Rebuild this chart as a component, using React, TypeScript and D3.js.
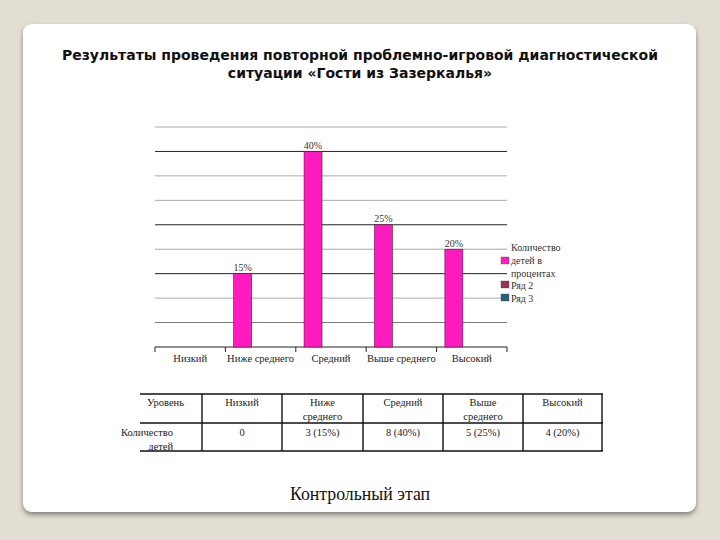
import React from "react";
import * as d3 from "d3";

const categories = ["Низкий", "Ниже среднего", "Средний", "Выше среднего", "Высокий"];
const seriesNames = ["Количество детей в процентах", "Ряд 2", "Ряд 3"];
const series1 = [0, 15, 40, 25, 20];
const series1Labels = ["", "15%", "40%", "25%", "20%"];
const yTicks = [0, 5, 10, 15, 20, 25, 30, 35, 40, 45];
const legendLines = [["Количество", "детей в", "процентах"], ["Ряд 2"], ["Ряд 3"]];
const seriesColors = ["#ff1cbf", "#98324f", "#24607c"];

const tableHeader = [["Уровень"], ["Низкий"], ["Ниже", "среднего"], ["Средний"], ["Выше", "среднего"], ["Высокий"]];
const tableRow = [["Количество", "детей"], ["0"], ["3 (15%)"], ["8 (40%)"], ["5 (25%)"], ["4 (20%)"]];
const tableCols = [143, 202, 282, 363, 443, 523, 602];

const titleLines = [
  "Результаты проведения повторной проблемно-игровой диагностической",
  "ситуации «Гости из Зазеркалья»",
];
const footer = "Контрольный этап";

export default function App() {
  const x0 = d3.scaleBand<string>().domain(categories).range([155, 507]).padding(0);
  const x1 = d3
    .scaleBand<string>()
    .domain(seriesNames)
    .range([0, x0.bandwidth()])
    .paddingInner(0)
    .paddingOuter(0.46);
  const y = d3.scaleLinear().domain([0, 45]).range([347, 127]);
  const serif = "'Liberation Serif', 'DejaVu Serif', serif";
  const gridColor = (v: number) =>
    v === 15 || v === 25 || v === 40 ? "#222" : v === 5 ? "#777" : "#aaa";

  const boundaries = [...categories.map((c) => x0(c) as number), 507];

  return (
    <svg width={720} height={540} style={{ position: "absolute", left: 0, top: 0 }}>
      <defs>
        <filter id="sh" x="-5%" y="-5%" width="110%" height="115%">
          <feDropShadow dx="0" dy="3" stdDeviation="2.5" floodColor="#666" floodOpacity="0.75" />
        </filter>
      </defs>
      <rect x={0} y={0} width={720} height={540} fill="#e3ded3" />
      <rect x={23} y={24} width={673} height={488} rx={9} fill="#fff" filter="url(#sh)" />

      {titleLines.map((t, i) => (
        <text
          key={i}
          x={360}
          y={60 + i * 18}
          textAnchor="middle"
          fontFamily="'DejaVu Sans', sans-serif"
          fontWeight="bold"
          fontSize={14}
          fill="#111"
        >
          {t}
        </text>
      ))}

      {/* gridlines */}
      {yTicks.slice(1).map((v) => (
        <line key={v} x1={155} x2={507} y1={y(v)} y2={y(v)} stroke={gridColor(v)} strokeWidth={1} />
      ))}
      {/* baseline */}
      <line x1={155} x2={507} y1={y(0)} y2={y(0)} stroke="#222" strokeWidth={1} />
      {boundaries.map((b, i) => (
        <line key={i} x1={b} x2={b} y1={y(0)} y2={y(0) + 5} stroke="#222" />
      ))}

      {/* bars */}
      {categories.map((c, i) =>
        series1[i] > 0 ? (
          <g key={c}>
            <rect
              x={(x0(c) as number) + (x1(seriesNames[0]) as number)}
              y={y(series1[i])}
              width={x1.bandwidth()}
              height={y(0) - y(series1[i])}
              fill={seriesColors[0]}
              stroke="#5a1040"
              strokeWidth={0.6}
            />
            <text
              x={(x0(c) as number) + (x1(seriesNames[0]) as number) + x1.bandwidth() / 2}
              y={y(series1[i]) - 2.5}
              textAnchor="middle"
              fontFamily={serif}
              fontSize={10}
              fill="#333"
            >
              {series1Labels[i]}
            </text>
          </g>
        ) : null
      )}

      {/* x labels */}
      {categories.map((c) => (
        <text
          key={c}
          x={(x0(c) as number) + x0.bandwidth() / 2}
          y={362}
          textAnchor="middle"
          fontFamily={serif}
          fontSize={10.5}
          fill="#222"
        >
          {c}
        </text>
      ))}

      {/* legend */}
      <text x={511} y={251} fontFamily={serif} fontSize={10} fill="#333">
        {legendLines[0][0]}
      </text>
      <rect x={501} y={257} width={8} height={7} fill={seriesColors[0]} stroke="#555" strokeWidth={0.4} />
      <text x={511} y={264} fontFamily={serif} fontSize={10} fill="#333">
        {legendLines[0][1]}
      </text>
      <text x={511} y={277} fontFamily={serif} fontSize={10} fill="#333">
        {legendLines[0][2]}
      </text>
      <rect x={501} y={281} width={8} height={7} fill={seriesColors[1]} stroke="#555" strokeWidth={0.4} />
      <text x={511} y={289} fontFamily={serif} fontSize={10} fill="#333">
        {legendLines[1][0]}
      </text>
      <rect x={501} y={294} width={8} height={7} fill={seriesColors[2]} stroke="#555" strokeWidth={0.4} />
      <text x={511} y={302} fontFamily={serif} fontSize={10} fill="#333">
        {legendLines[2][0]}
      </text>

      {/* table */}
      {[394, 423, 451].map((ly) => (
        <line key={ly} x1={140} x2={603} y1={ly} y2={ly} stroke="#111" strokeWidth={1.4} />
      ))}
      {tableCols.slice(1).map((cx) => (
        <line key={cx} x1={cx} x2={cx} y1={394} y2={451} stroke="#111" strokeWidth={1.4} />
      ))}
      {tableHeader.map((lines, ci) =>
        lines.map((t, li) => (
          <text
            key={ci + "-" + li}
            x={ci === 0 ? 147 : (tableCols[ci] + tableCols[ci + 1]) / 2}
            y={406 + li * 14}
            textAnchor={ci === 0 ? "start" : "middle"}
            fontFamily={serif}
            fontSize={10.5}
            fill="#222"
          >
            {t}
          </text>
        ))
      )}
      {tableRow.map((lines, ci) =>
        lines.map((t, li) => (
          <text
            key={"r" + ci + "-" + li}
            x={ci === 0 ? 173 : (tableCols[ci] + tableCols[ci + 1]) / 2}
            y={436 + li * 14}
            textAnchor={ci === 0 ? "end" : "middle"}
            fontFamily={serif}
            fontSize={10.5}
            fill="#222"
          >
            {t}
          </text>
        ))
      )}

      <text x={360} y={500} textAnchor="middle" fontFamily={serif} fontSize={17.8} fill="#111">
        {footer}
      </text>
    </svg>
  );
}
